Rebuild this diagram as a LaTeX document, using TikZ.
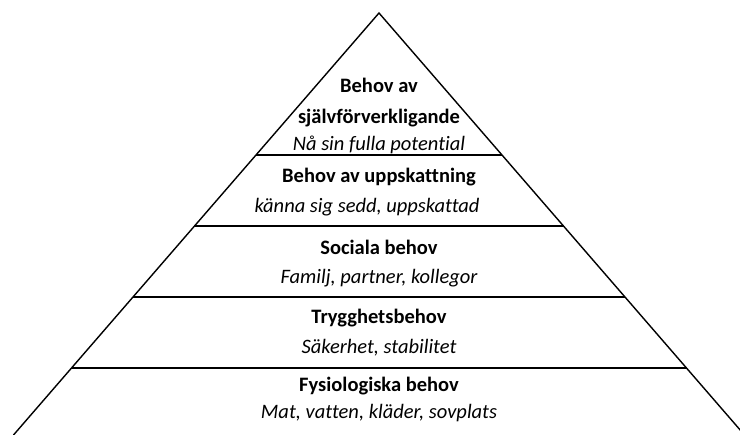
\documentclass[tikz,border=0pt]{standalone}
\usepackage{fontspec}
\setmainfont[Ligatures=NoCommon]{Carlito}
\tikzset{
  levelname/.style={font=\bfseries\fontsize{20.5}{24}\selectfont},
  leveltext/.style={font=\itshape\fontsize{20.5}{24}\selectfont},
}
\begin{document}
\begin{tikzpicture}[x=1pt, y=-1pt, line width=1.4pt]
    \useasboundingbox (0,0) rectangle (740,435);
    \clip (0,0) rectangle (740,435);
    \draw (13.5,435) -- (379,13) -- (744.5,435);
    \foreach \y in {155, 226, 297, 368} {
        \draw ({379-0.866*(\y-13)}, \y) -- ({379+0.866*(\y-13)}, \y);
    }
    \node[levelname] (self1) at (379,85) {Behov av};
    \node[levelname] (self2) at (379,118) {självförverkligande};
    \node[leveltext] (selftext) at (379,145) {Nå sin fulla potential};
    \node[levelname] (esteem) at (379,177) {Behov av uppskattning};
    \node[leveltext] (esteemtext) at (367,207) {känna sig sedd, uppskattad};
    \node[levelname] (social) at (379,247) {Sociala behov};
    \node[leveltext] (socialtext) at (379,278) {Familj, partner, kollegor};
    \node[levelname] (safety) at (379,318) {Trygghetsbehov};
    \node[leveltext] (safetytext) at (379,348) {Säkerhet, stabilitet};
    \node[levelname] (body) at (379,386) {Fysiologiska behov};
    \node[leveltext] (bodytext) at (379,413) {Mat, vatten, kläder, sovplats};
\end{tikzpicture}
\end{document}
